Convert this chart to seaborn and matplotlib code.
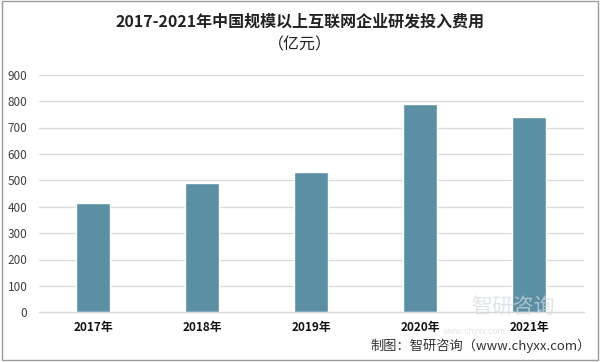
import matplotlib
matplotlib.use("Agg")
import matplotlib.pyplot as plt
import seaborn as sns
import pandas as pd
from matplotlib.patches import Rectangle

years = ["2017年", "2018年", "2019年", "2020年", "2021年"]
values = [413, 488, 533, 788, 741]
title_line1 = "2017-2021年中国规模以上互联网企业研发投入费用"
title_line2 = "（亿元）"
source = "制图：智研咨询（www.chyxx.com）"

sns.set_theme(style="white")
plt.rcParams['font.family'] = ['Noto Sans CJK SC', 'DejaVu Sans']

df = pd.DataFrame({"year": years, "value": values})

fig = plt.figure(figsize=(6, 3.62), dpi=100)
ax = fig.add_axes([38.5/600, 1-312.3/362, (583.5-38.5)/600, (312.3-74.7)/362])
sns.barplot(data=df, x="year", y="value", color="#5b8fa4", saturation=1,
            width=0.31, ax=ax)
ax.set_ylim(0, 900)
ax.set_xlim(-0.5, 4.5)
ax.set_yticks(range(0, 901, 100))
ax.yaxis.grid(True, color="#d9d9d9", linewidth=0.9)
ax.set_axisbelow(True)
for s in ["top", "right", "left"]:
    ax.spines[s].set_visible(False)
ax.spines["bottom"].set_color("#d9d9d9")
ax.spines["bottom"].set_linewidth(0.9)
ax.set_xlabel("")
ax.set_ylabel("")
ax.tick_params(axis="y", labelsize=8.5, labelcolor="#404040", length=0, pad=8)
ax.tick_params(axis="x", labelsize=8.5, labelcolor="#111111", length=0, pad=6)
for lab in ax.get_xticklabels():
    lab.set_fontweight("bold")

fig.text(0.5, 0.94, title_line1, ha="center", va="center",
         fontsize=11.5, fontweight="bold", color="#222222")
fig.text(0.5, 0.875, title_line2, ha="center", va="center",
         fontsize=11.5, color="#222222")

# faint watermark
fig.text(0.855, 1-307/362, "智研咨询", ha="center", va="center", fontsize=15,
         color="#d3dae2", alpha=0.7, zorder=0)
fig.text(0.79, 1-332/362, "www.chyxx.com", ha="center", va="center",
         fontsize=6, color="#d3dae2", alpha=0.7)

fig.text(0.985, 0.045, source, ha="right", va="center", fontsize=9.5, color="#333333")

fig.add_artist(Rectangle((0.004, 0.006), 0.992, 0.99, transform=fig.transFigure,
                         fill=False, edgecolor="#9a9a9a", linewidth=1.0))

fig.savefig("out.png", dpi=100)
